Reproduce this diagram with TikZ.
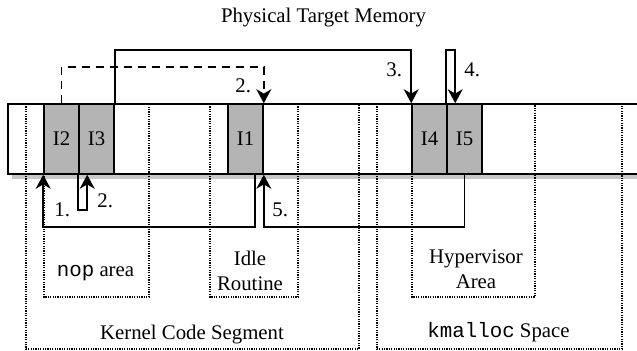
\documentclass[tikz,border=0pt]{standalone}
\usepackage{fontspec}
\setmainfont{Liberation Serif}
\setmonofont{Liberation Mono}
\usetikzlibrary{arrows.meta}
\definecolor{blockgray}{RGB}{180,180,180}
\definecolor{shadowgray}{RGB}{200,200,200}
\begin{document}
\begin{tikzpicture}[x=0.5pt,y=-0.5pt,
  every node/.style={font=\fontsize{10.4}{12.5}\selectfont},
  blk/.style={draw,line width=0.8pt,fill=blockgray,minimum width=17.5pt,minimum height=35pt,inner sep=0pt},
  area/.style={dash pattern=on 0.6pt off 0.6pt,line width=0.75pt},
  barline/.style={line width=0.9pt},
  arr/.style={line width=0.8pt,-{Stealth[length=7pt,width=7.5pt,inset=2.2pt]}},
  lbl/.style={anchor=base west,inner sep=0pt},
  txt/.style={anchor=base,inner sep=0pt}]
\useasboundingbox (0,0) rectangle (637,351);
% shadow
\fill[shadowgray] (12,174) rectangle (637,179);
% dotted areas
\draw[area] (26,104) rectangle (359,349);
\draw[area] (377,104) rectangle (622,349);
\draw[area] (44,104) rectangle (149,297);
\draw[area] (210,104) rectangle (298,297);
\draw[area] (412,104) rectangle (535,297);
% blocks
\node[blk] (I2) at (61.5,139) {I2};
\node[blk] (I3) at (96.5,139) {I3};
\node[blk] (I1) at (245.5,139) {I1};
\node[blk] (I4) at (429.5,139) {I4};
\node[blk] (I5) at (464.5,139) {I5};
% memory bar
\draw[barline] (637,104) -- (8,104) -- (8,174) -- (637,174);
% title
\node[txt] (title) at (323.5,23) {Physical Target Memory};
% arrows
\draw[arr] ([xshift=-4.5pt]I1.south east) -- ++(0,52) -| (I2.south west);
\node[lbl] (l1) at (54,217) {1.};
\draw[arr] (I3.south west) -- ++(0,35) -| ([xshift=4.5pt]I3.south west);
\node[lbl] (l2b) at (97,208) {2.};
\draw[arr] (I5.south) -- ++(0,52) -| (I1.south east);
\node[lbl] (l5) at (272,217) {5.};
\draw[arr] (I3.north east) -- ++(0,-53) -| (I4.north west);
\node[lbl] (l3) at (386,77) {3.};
\draw[arr,dash pattern=on 4pt off 3pt] (I2.north) -- ++(0,-36) -| (I1.north east);
\node[lbl] (l2a) at (235,93) {2.};
\draw[arr] (I5.north west) -- ++(0,-53) -| ([xshift=4.5pt]I5.north west);
\node[lbl] (l4) at (464,77) {4.};
% area labels
\node[txt] (nop) at (95.5,277) {\texttt{nop}\ area};
\node[txt] (idle1) at (250,266) {Idle};
\node[txt] (idle2) at (250,291) {Routine};
\node[txt] (hyp1) at (476,264) {Hypervisor};
\node[txt] (hyp2) at (476,289) {Area};
\node[txt] (kcs) at (192,340) {Kernel Code Segment};
\node[txt] (kms) at (498.5,338) {\texttt{kmalloc} Space};
\end{tikzpicture}
\end{document}
